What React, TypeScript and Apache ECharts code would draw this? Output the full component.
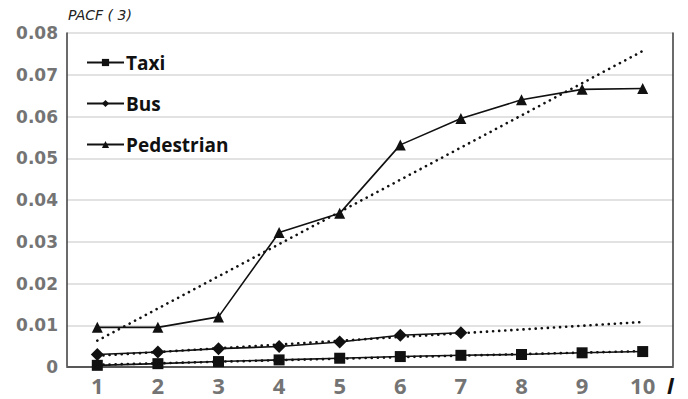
import React, { useEffect, useRef } from "react";
import * as echarts from "echarts";

// Lags on the x axis
const lags = ["1", "2", "3", "4", "5", "6", "7", "8", "9", "10"];

// PACF(3) values per transport mode
const taxi = [0.0004, 0.0008, 0.0013, 0.0017, 0.0021, 0.0025, 0.0028, 0.003, 0.0034, 0.0037];
const bus = [0.003, 0.0036, 0.0044, 0.0049, 0.006, 0.0076, 0.0082];
const pedestrian = [0.0095, 0.0095, 0.012, 0.0322, 0.0368, 0.0532, 0.0595, 0.064, 0.0665, 0.0667];

// Least-squares linear trend fitted on the known points, extended over all lags
function linearTrend(values: number[], length: number): number[] {
  const n = values.length;
  const xs = values.map((_, i) => i + 1);
  const mx = xs.reduce((a, b) => a + b, 0) / n;
  const my = values.reduce((a, b) => a + b, 0) / n;
  let sxy = 0;
  let sxx = 0;
  for (let i = 0; i < n; i++) {
    sxy += (xs[i] - mx) * (values[i] - my);
    sxx += (xs[i] - mx) * (xs[i] - mx);
  }
  const slope = sxy / sxx;
  const out: number[] = [];
  for (let x = 1; x <= length; x++) out.push(my + slope * (x - mx));
  return out;
}

const openSans = "'Open Sans', 'DejaVu Sans', sans-serif";
const dejavu = "'DejaVu Sans', sans-serif";
const axisGray = "#747474";
const frame = "#3a3a3a";

export default function App() {
  const ref = useRef<HTMLDivElement>(null);

  useEffect(() => {
    if (!ref.current) return;
    const chart = echarts.init(ref.current, undefined, { renderer: "svg" });

    const solid = (name: string, data: number[], symbol: string, size: number) => ({
      name,
      type: "line",
      data,
      symbol,
      symbolSize: size,
      showSymbol: true,
      itemStyle: { color: "#111" },
      lineStyle: { color: "#111", width: 1.6 },
      z: 3,
    });

    const trend = (data: number[]) => ({
      type: "line",
      data: data.map((v) => Number(v.toFixed(6))),
      symbol: "none",
      silent: true,
      lineStyle: { color: "#111", width: 2.6, type: [0.1, 6], cap: "round" },
      z: 4,
    });

    chart.setOption({
      animation: false,
      backgroundColor: "#fff",
      grid: { left: 67, right: 15, top: 33, bottom: 32 },
      legend: {
        data: ["Taxi", "Bus", "Pedestrian"],
        orient: "vertical",
        left: 81,
        top: 48,
        itemGap: 22,
        itemWidth: 37,
        itemHeight: 9,
        textStyle: {
          fontFamily: openSans,
          fontWeight: "bold",
          fontSize: 19,
          color: "#111",
          padding: [0, 0, 0, -3],
        },
      },
      xAxis: [
        {
          type: "category",
          data: lags,
          boundaryGap: true,
          axisLine: { show: true, lineStyle: { color: "#b5b5b5", width: 2 } },
          axisTick: { show: false },
          axisLabel: {
            color: axisGray,
            fontFamily: openSans,
            fontWeight: "bold",
            fontSize: 22,
            margin: 7,
          },
        },
        {
          type: "category",
          data: lags,
          position: "top",
          axisLine: { show: true, lineStyle: { color: frame, width: 1.5 } },
          axisTick: { show: false },
          axisLabel: { show: false },
        },
      ],
      yAxis: [
        {
          type: "value",
          min: 0,
          max: 0.08,
          interval: 0.01,
          axisLine: { show: true, lineStyle: { color: frame, width: 1.5 } },
          axisTick: { show: false },
          splitLine: { lineStyle: { color: "#d9d9d9", width: 1.5 } },
          axisLabel: {
            color: axisGray,
            fontFamily: dejavu,
            fontWeight: "bold",
            fontSize: 17,
            margin: 9,
            formatter: (v: number) => (v === 0 ? "0" : v.toFixed(2)),
          },
        },
        {
          type: "value",
          min: 0,
          max: 0.08,
          interval: 0.01,
          position: "right",
          axisLine: { show: true, lineStyle: { color: frame, width: 1.5 } },
          axisTick: { show: false },
          axisLabel: { show: false },
          splitLine: { show: false },
        },
      ],
      graphic: [
        {
          type: "text",
          left: 68,
          top: 8,
          style: {
            text: "PACF ( 3)",
            fontFamily: dejavu,
            fontStyle: "italic",
            fontSize: 14,
            fill: "#222",
          },
        },
        {
          type: "text",
          left: 667,
          top: 374,
          style: {
            text: "l",
            fontFamily: openSans,
            fontStyle: "italic",
            fontWeight: "bold",
            fontSize: 22,
            lineHeight: 22,
            fill: "#111",
          },
        },
      ],
      series: [
        solid("Taxi", taxi, "rect", 11),
        solid("Bus", bus, "diamond", 13),
        solid("Pedestrian", pedestrian, "triangle", 11),
        trend(linearTrend(taxi, lags.length)),
        trend(linearTrend(bus, lags.length)),
        trend(linearTrend(pedestrian, lags.length)),
      ],
    });

    return () => chart.dispose();
  }, []);

  return (
    <div
      ref={ref}
      style={{ position: "fixed", left: 0, top: 0, width: 688, height: 399 }}
    />
  );
}
